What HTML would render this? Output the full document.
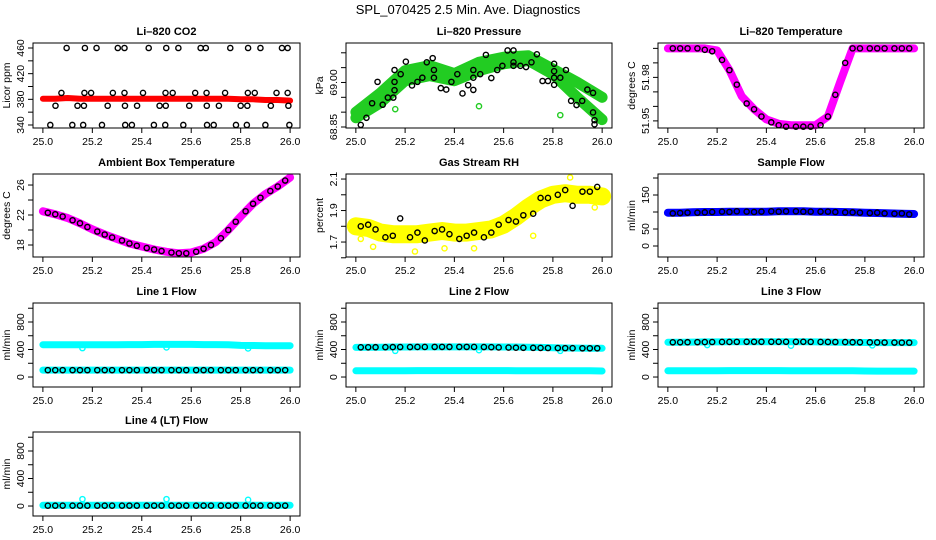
<!DOCTYPE html>
<html><head><meta charset="utf-8"><title>SPL_070425 2.5 Min. Ave. Diagnostics</title>
<style>
html,body{margin:0;padding:0;background:#fff;}
svg{display:block;font-family:"Liberation Sans",Arial,sans-serif;}
</style></head>
<body>
<svg id="fig" width="936" height="540" viewBox="0 0 936 540" xmlns="http://www.w3.org/2000/svg">
<rect x="0" y="0" width="936" height="540" fill="#fff"/>
<text x="468" y="14" text-anchor="middle" font-size="13">SPL_070425  2.5 Min. Ave. Diagnostics</text>
</svg>
<script>
// shared time categories (fractional day)
const bandT = [25.0,25.05,25.1,25.15,25.2,25.25,25.3,25.35,25.4,25.45,25.5,25.55,25.6,25.65,25.7,25.75,25.8,25.85,25.9,25.95,26.0];
const blackT = [25.02,25.05,25.08,25.12,25.15,25.18,25.22,25.25,25.28,25.32,25.35,25.38,25.42,25.45,25.48,25.52,25.55,25.58,25.62,25.65,25.68,25.72,25.75,25.78,25.82,25.85,25.88,25.92,25.95,25.98];
const xTicks = [25.0,25.2,25.4,25.6,25.8,26.0];
const xTickLabels = ["25.0","25.2","25.4","25.6","25.8","26.0"];

// Li-820 CO2
const co2Band = [381,381,382,381,381,381,381,381,381,381,381,381,381,381,381,381,380,380,379,379,378];
const co2BlackT = [25.096,25.17,25.217,25.303,25.33,25.428,25.499,25.548,25.638,25.659,25.758,25.83,25.88,25.967,25.99,
 25.075,25.168,25.195,25.283,25.33,25.405,25.496,25.525,25.616,25.662,25.737,25.829,25.857,25.945,25.99,
 25.051,25.14,25.166,25.262,25.332,25.381,25.472,25.497,25.592,25.663,25.712,25.8,25.827,25.922,25.993,
 25.03,25.119,25.163,25.239,25.333,25.36,25.449,25.495,25.568,25.664,25.691,25.781,25.825,25.9,25.997];
const co2BlackV = [460,460,460,460,460,460,460,460,460,460,460,460,460,460,460,
 390,390,390,390,390,390,390,390,390,390,390,390,390,390,390,
 370,370,370,370,370,370,370,370,370,370,370,370,370,370,370,
 340,340,340,340,340,340,340,340,340,340,340,340,340,340,340];

// Li-820 Pressure
const presUpper = [68.90,68.965,69.04,69.057,69.03,69.068,69.085,69.09,69.045,69.00,68.95];
const presLower = [68.881,68.932,69.006,69.023,69.006,69.04,69.063,69.074,69.028,68.949,68.875];
const presBandT = [25.0,25.1,25.2,25.3,25.4,25.5,25.6,25.7,25.8,25.9,26.0];
const presBlackT = [25.020,25.043,25.066,25.088,25.109,25.130,25.152,25.157,25.157,25.157,25.182,25.203,25.228,25.250,25.270,25.288,25.312,25.317,25.317,25.345,25.367,25.388,25.412,25.433,25.456,25.477,25.477,25.477,25.505,25.528,25.550,25.574,25.595,25.616,25.640,25.640,25.640,25.668,25.691,25.713,25.735,25.758,25.780,25.805,25.805,25.805,25.805,25.830,25.853,25.874,25.896,25.919,25.940,25.963,25.963,25.969,25.969];
const presBlackV = [68.857,68.881,68.930,69.002,68.925,68.949,68.949,68.974,69.002,69.042,69.028,69.070,68.990,69.002,69.016,69.068,69.082,69.016,69.042,68.981,68.976,69.002,69.028,68.963,68.991,69.016,68.975,69.042,69.028,69.093,69.015,69.042,69.056,69.108,69.108,69.056,69.068,69.056,69.052,69.068,69.095,69.005,69.005,68.992,69.016,69.038,69.063,69.016,69.042,68.938,68.924,68.938,68.976,68.965,68.899,68.873,68.859];
const presOutT = [25.16,25.5,25.83];
const presOutV = [68.91,68.92,68.89];

// Li-820 Temperature
const tempBand = [52.0,52.0,52.0,52.0,51.9986,51.985,51.967,51.958,51.951,51.948,51.947,51.947,51.947,51.953,51.977,52.0,52.0,52.0,52.0,52.0,52.0];
const tempBlack = [52.0,52.0,52.0,52.0,51.999,51.998,51.992,51.985,51.975,51.962,51.958,51.953,51.949,51.947,51.946,51.946,51.946,51.946,51.947,51.953,51.968,51.99,52.0,52.0,52.0,52.0,52.0,52.0,52.0,52.0];

// Ambient Box Temperature
const ambBand = [22.5,22.1,21.6,20.9,20.1,19.4,18.8,18.2,17.8,17.4,17.1,16.9,17.0,17.5,18.4,20.0,21.8,23.5,24.8,25.8,27.0];
const ambBlack = [22.3,22.1,21.8,21.3,20.9,20.4,19.8,19.4,19.0,18.6,18.2,17.9,17.6,17.4,17.2,17.0,16.9,16.9,17.1,17.5,18.0,18.9,20.0,21.1,22.5,23.5,24.3,25.2,25.8,26.6];

// Gas Stream RH
const rhBand = [1.80,1.79,1.76,1.75,1.75,1.75,1.76,1.77,1.76,1.76,1.77,1.78,1.81,1.86,1.92,1.97,2.00,2.01,2.00,2.00,1.99];
const rhBlack = [1.80,1.81,1.78,1.73,1.74,1.85,1.73,1.76,1.71,1.77,1.78,1.75,1.72,1.74,1.76,1.73,1.76,1.81,1.84,1.83,1.87,1.88,1.98,1.98,2.00,2.03,1.93,2.02,2.02,2.05];
const rhOutT = [25.02,25.07,25.24,25.36,25.48,25.72,25.87,25.97];
const rhOutV = [1.72,1.67,1.64,1.66,1.66,1.74,2.11,1.92];

// Sample Flow
const sfBand = [98,98,99,100,100,101,101,101,101,102,102,102,101,101,100,99,98,97,96,95,94];
const sfBlack = [96,97,98,98,99,100,101,100,102,101,100,101,102,101,102,102,101,101,101,101,100,99,99,98,97,98,96,95,96,93];

// Line flows
const l1Cyan = [470,470,470,470,470,470,470,472,472,474,474,474,474,472,472,470,460,458,456,456,456];
const l1Black = [100,100,100,100,100,100,100,100,100,100,100,100,100,100,100,100,100,100,100,100,100,100,100,100,100,100,100,100,100,100];
const l1CyanLow = [100,100,100,100,100,100,100,100,100,100,100,100,100,100,100,100,100,100,100,100,100];
const l2Black = [432,432,433,434,435,436,436,437,437,438,438,438,438,438,437,436,434,430,428,426,425,424,423,422,421,420,419,418,418,418];
const l2CyanHi = [430,432,434,436,437,438,438,438,438,438,438,438,437,436,434,430,426,422,420,419,418];
const l2Cyan = [90,90,90,90,92,94,94,94,94,94,94,94,94,92,90,90,90,90,90,90,88];
const l3Black = [505,505,506,507,508,509,510,510,511,512,512,512,512,512,512,512,512,511,510,510,509,508,506,505,504,503,502,501,500,500];
const l3CyanHi = [505,506,508,510,511,512,512,512,512,512,512,512,510,508,506,504,502,501,500,500,500];
const l3Cyan = [90,90,90,90,92,94,94,94,94,94,92,92,92,92,90,90,88,86,86,86,86];
const l4Black = [5,5,5,5,5,5,5,5,5,5,5,5,5,5,5,5,5,5,5,5,5,5,5,5,5,5,5,5,5,5];
const l4Cyan = [10,10,10,10,10,10,10,10,10,10,10,10,10,10,10,10,10,10,10,10,10];
const l1OutV = [420,430,415];
const l2OutV = [380,390,380];
const l3OutV = [465,455,460];
const l4OutV = [100,100,90];
const blipT = [25.16,25.5,25.83];

const NS = "http://www.w3.org/2000/svg";
const svg = document.getElementById("fig");
const colBox = [[33,300],[346,612],[658,924]];
const rowBox = [[43,128],[174,257],[303,387],[432,516]];

function mk(tag, attrs, parent){
  const e = document.createElementNS(NS, tag);
  for (const k in attrs) e.setAttribute(k, attrs[k]);
  (parent||svg).appendChild(e);
  return e;
}

function panel(key, col, row, title, ylab, yLo, yHi, yTicks, yLabels){
  const L = colBox[col][0], R = colBox[col][1], T = rowBox[row][0], B = rowBox[row][1];
  const w = R - L;
  const g = document.createElementNS(NS, "g");
  
  
  svg.appendChild(g);
  const p = {g:g,L:L,R:R,T:T,B:B,
    x: v => L + w*0.04/1.08 + (v-25)*w/1.08,
    y: v => B - (v - yLo)/(yHi - yLo)*(B - T)};
  // title
  const t = mk("text", {x:(L+R)/2, y:T-8, "text-anchor":"middle", "font-size":"11", "font-weight":"bold"}, g);
  t.textContent = title;
  
  
  // y label
  const yl = mk("text", {x:0, y:0, "text-anchor":"middle", "font-size":"10.5", transform:`translate(${L-23},${(T+B)/2}) rotate(-90)`}, g);
  yl.textContent = ylab;
  
  
  // y ticks
  const ya = mk("g", {}, g);
  
  
  mk("line", {x1:L, x2:L, y1:p.y(yTicks[0]), y2:p.y(yTicks[yTicks.length-1]), stroke:"#000", "stroke-width":"1"}, ya);
  yTicks.forEach(v => {
    mk("line", {x1:L-5, x2:L, y1:p.y(v), y2:p.y(v), stroke:"#000", "stroke-width":"1"}, ya);
  });
  yLabels.forEach(s => {
    const tx = mk("text", {x:0, y:0, "text-anchor":"middle", "font-size":"10.5", transform:`translate(${L-9},${p.y(parseFloat(s))}) rotate(-90)`}, ya);
    tx.textContent = s;
  });
  // x ticks
  const xa = mk("g", {}, g);
  
  
  xTicks.forEach((v,i) => {
    mk("line", {x1:p.x(v), x2:p.x(v), y1:B, y2:B+5, stroke:"#000", "stroke-width":"1"}, xa);
    const tx = mk("text", {x:p.x(v), y:B+17, "text-anchor":"middle", "font-size":"10.5"}, xa);
    tx.textContent = xTickLabels[i];
  });
  return p;
}

function band(p, name, ts, vs, color, width){
  const pts = ts.map((t,i) => p.x(t).toFixed(1) + "," + p.y(vs[i]).toFixed(1)).join(" ");
  const pl = mk("polyline", {points:pts, fill:"none", stroke:color, "stroke-width":width, "stroke-linecap":"round", "stroke-linejoin":"round"}, p.g);
  
  
}
function pts(p, name, ts, vs, color){
  const gg = mk("g", {}, p.g);
  
  
  ts.forEach((t,i) => {
    mk("circle", {cx:p.x(t), cy:p.y(vs[i]), r:"2.6", fill:"none", stroke:color, "stroke-width":"1.4"}, gg);
  });
}
function frame(p, key){
  const r = mk("rect", {x:p.L, y:p.T, width:p.R-p.L, height:p.B-p.T, fill:"none", stroke:"#000", "stroke-width":"1"}, p.g);
  
  
}

const RED="#ff0000", GRN="#22cc22", MAG="#ff00ff", YEL="#ffff00", BLU="#0000ff", CYN="#00ffff", BLK="#000";

let p;
p = panel("co2",0,0,"Li\u2013820 CO2","Licor ppm",335.3,467.8,[340,360,380,400,420,440,460],["340","380","420","460"]);
band(p,"co2-red-series",bandT,co2Band,RED,6);
pts(p,"co2-black-points",co2BlackT,co2BlackV,BLK);
frame(p,"co2");

p = panel("pressure",1,0,"Li\u2013820 Pressure","kPa",68.8466,69.133,[68.85,68.9,68.95,69.0,69.05,69.1],["68.85","69.00"]);
band(p,"pressure-green-upper",presBandT,presUpper,GRN,11);
band(p,"pressure-green-lower",presBandT,presLower,GRN,11);
pts(p,"pressure-green-outliers",presOutT,presOutV,GRN);
pts(p,"pressure-black-points",presBlackT,presBlackV,BLK);
frame(p,"pressure");

p = panel("temperature",2,0,"Li\u2013820 Temperature","degrees C",51.9451,52.0037,[51.95,51.96,51.97,51.98,51.99,52.0],["51.95","51.98"]);
band(p,"temperature-magenta-series",bandT,tempBand,MAG,8);
pts(p,"temperature-black-points",blackT,tempBlack,BLK);
frame(p,"temperature");

p = panel("ambient",0,1,"Ambient Box Temperature","degrees C",16.4,27.47,[18,20,22,24,26],["18","22","26"]);
band(p,"ambient-magenta-series",bandT,ambBand,MAG,8);
pts(p,"ambient-black-points",blackT,ambBlack,BLK);
frame(p,"ambient");

p = panel("rh",1,1,"Gas Stream RH","percent",1.605,2.132,[1.6,1.7,1.8,1.9,2.0,2.1],["1.7","1.9","2.1"]);
band(p,"rh-yellow-series",bandT,rhBand,YEL,18);
pts(p,"rh-yellow-outliers",rhOutT,rhOutV,YEL);
pts(p,"rh-black-points",blackT,rhBlack,BLK);
frame(p,"rh");

p = panel("sample-flow",2,1,"Sample Flow","ml/min",-32.4,211.8,[0,50,100,150,200],["0","50","150"]);
band(p,"sample-flow-blue-series",bandT,sfBand,BLU,8);
pts(p,"sample-flow-black-points",blackT,sfBlack,BLK);
frame(p,"sample-flow");

const flowTicks = [0,200,400,600,800,1000], flowLabels = ["0","400","800"];
p = panel("line1",0,2,"Line 1 Flow","ml/min",-145,1076,flowTicks,flowLabels);
band(p,"line1-cyan-high",bandT,l1Cyan,CYN,7);
band(p,"line1-cyan-low",bandT,l1CyanLow,CYN,7);
pts(p,"line1-cyan-blips",blipT,l1OutV,CYN);
pts(p,"line1-black-points",blackT,l1Black,BLK);
frame(p,"line1");

p = panel("line2",1,2,"Line 2 Flow","ml/min",-145,1076,flowTicks,flowLabels);
band(p,"line2-cyan-high",bandT,l2CyanHi,CYN,7);
band(p,"line2-cyan-low",bandT,l2Cyan,CYN,7);
pts(p,"line2-cyan-blips",blipT,l2OutV,CYN);
pts(p,"line2-black-points",blackT,l2Black,BLK);
frame(p,"line2");

p = panel("line3",2,2,"Line 3 Flow","ml/min",-145,1076,flowTicks,flowLabels);
band(p,"line3-cyan-high",bandT,l3CyanHi,CYN,7);
band(p,"line3-cyan-low",bandT,l3Cyan,CYN,7);
pts(p,"line3-cyan-blips",blipT,l3OutV,CYN);
pts(p,"line3-black-points",blackT,l3Black,BLK);
frame(p,"line3");

p = panel("line4",0,3,"Line 4 (LT) Flow","ml/min",-145,1076,flowTicks,flowLabels);
band(p,"line4-cyan-series",bandT,l4Cyan,CYN,7);
pts(p,"line4-cyan-blips",blipT,l4OutV,CYN);
pts(p,"line4-black-points",blackT,l4Black,BLK);
frame(p,"line4");
</script>
</body></html>
